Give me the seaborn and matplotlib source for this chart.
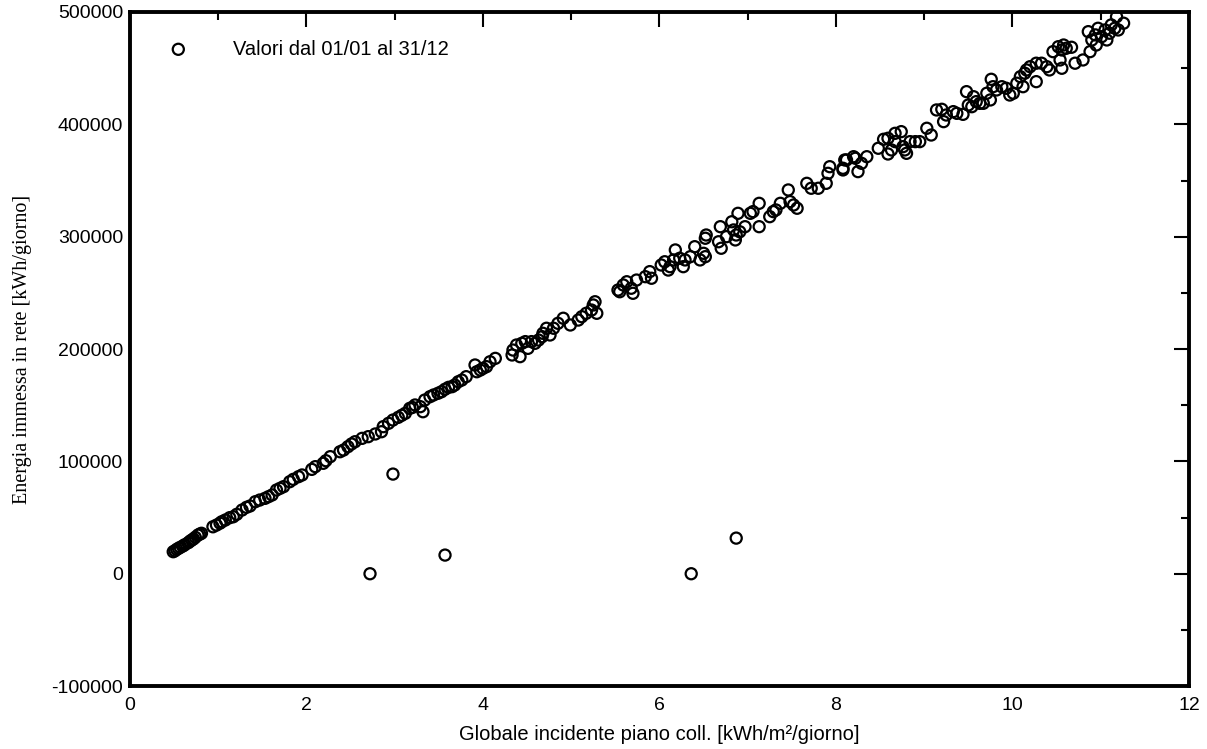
import matplotlib
matplotlib.use('Agg')
import matplotlib.pyplot as plt
import seaborn as sns
import pandas as pd
from matplotlib.ticker import MultipleLocator

sns.set_style('white')
plt.rcParams['font.family'] = ['Liberation Sans', 'DejaVu Sans']
plt.rcParams['axes.unicode_minus'] = False
plt.rcParams['text.color'] = 'black'
plt.rcParams['axes.labelcolor'] = 'black'

# daily irradiance on collector plane [kWh/m2/day] and energy to grid [kWh/day]
irr_low = [0.49, 0.51, 0.53, 0.55, 0.57, 0.60, 0.62, 0.66, 0.68, 0.70, 0.72, 0.74, 0.77, 0.79, 0.81,
           0.94, 0.98, 1.02, 1.04, 1.08, 1.13, 1.17, 1.21, 1.27, 1.32, 1.36, 1.42, 1.47,
           1.53, 1.57, 1.61, 1.66, 1.70, 1.74, 1.81, 1.85, 1.91, 1.95, 2.06, 2.10, 2.19,
           2.22, 2.27, 2.38, 2.42, 2.47, 2.51, 2.55, 2.63, 2.70, 2.78, 2.85]
ene_low = [19600, 20500, 21700, 22600, 23500, 24700, 25800, 27600, 28900, 30000, 31000, 32400, 34400, 35200, 36000,
           41800, 43300, 45000, 46300, 47800, 49900, 50700, 52900, 56700, 59100, 60300, 64100, 65600,
           67100, 68600, 70100, 74500, 76000, 77500, 81900, 84000, 86400, 87900, 92900, 95300, 98300,
           100600, 104200, 108600, 110100, 113100, 115500, 117500, 120500, 122000, 124400, 126400]

irr_mid = [2.87, 2.93, 2.98, 3.04, 3.08, 3.12, 3.17, 3.20, 3.23, 3.29, 3.32, 3.34, 3.40, 3.44, 3.49,
           3.53, 3.57, 3.61, 3.65, 3.68, 3.72, 3.76, 3.81, 3.91, 3.93, 3.97, 4.00, 4.04,
           4.08, 4.14, 4.33, 4.34, 4.38, 4.42, 4.44, 4.48, 4.51, 4.55, 4.59, 4.63, 4.67,
           4.68, 4.72, 4.76, 4.80, 4.85, 4.91, 4.99, 5.08, 5.12, 5.17, 5.23, 5.25, 5.27, 5.29]
ene_mid = [130900, 133900, 136800, 139200, 141000, 142800, 147200, 148000, 150200, 148700, 144200, 154600, 157600, 159100, 160600,
           162000, 164200, 165900, 166500, 168000, 170900, 172400, 175400, 185800, 179800, 181300, 182800, 184300,
           188700, 191700, 194700, 199100, 203600, 193200, 205100, 206600, 200600, 206600, 205100, 208000, 211000,
           214000, 218500, 212500, 218500, 222900, 227400, 221400, 225800, 228800, 231800, 234700, 239200, 242100, 231800]

irr_hi = [5.53, 5.55, 5.59, 5.63, 5.68, 5.70, 5.74, 5.84, 5.89, 5.91, 6.02, 6.06, 6.10, 6.12, 6.16,
          6.18, 6.23, 6.27, 6.29, 6.35, 6.40, 6.46, 6.50, 6.52, 6.52, 6.53, 6.67, 6.69, 6.70,
          6.76, 6.82, 6.84, 6.86, 6.87, 6.89, 6.91, 6.97, 7.03, 7.06, 7.13, 7.13, 7.25, 7.29,
          7.32, 7.37, 7.46, 7.48, 7.52, 7.56, 7.67, 7.72, 7.80, 7.89, 7.91, 7.93, 8.08, 8.12]
ene_hi = [252500, 251000, 257000, 259900, 254100, 249600, 261400, 264400, 268900, 263000, 274800, 277700, 270300, 273300, 279300,
          288200, 280800, 273300, 279300, 282200, 291100, 279300, 285200, 282200, 298600, 301500, 295500, 308900, 289700,
          300000, 313300, 306000, 297100, 301500, 320800, 304400, 308900, 320800, 322300, 329700, 308900, 317800, 322300,
          323800, 329700, 341600, 331200, 328200, 325300, 347500, 343100, 343100, 347500, 356400, 362300, 360900, 368300]

irr_top = [8.08, 8.10, 8.20, 8.22, 8.25, 8.29, 8.35, 8.48, 8.54, 8.59, 8.59, 8.63, 8.67, 8.67, 8.74,
           8.76, 8.78, 8.80, 8.84, 8.90, 8.95, 9.03, 9.08, 9.14, 9.20, 9.22, 9.25, 9.33, 9.37,
           9.44, 9.48, 9.50, 9.54, 9.56, 9.59, 9.63, 9.67, 9.71, 9.75, 9.76, 9.78, 9.82, 9.88,
           9.93, 9.97, 10.01, 10.05, 10.09, 10.12, 10.14, 10.16, 10.20, 10.27, 10.27,
           10.33, 10.39, 10.42, 10.46, 10.52, 10.54, 10.56, 10.56, 10.58, 10.61, 10.67, 10.71,
           10.80, 10.88, 10.86, 10.90, 10.94, 10.95, 10.97, 11.01, 11.05, 11.07, 11.10, 11.12,
           11.16, 11.18, 11.20, 11.26]
ene_top = [359400, 368300, 371200, 369800, 357900, 365300, 371200, 378700, 386700, 387600, 373600, 377200, 384600, 392000, 393500,
           380100, 377200, 374200, 384600, 384600, 384600, 396500, 390500, 412800, 413400, 402400, 408300, 411300, 409800,
           408900, 429100, 417200, 415700, 424600, 420200, 418700, 418700, 427700, 421700, 440100, 433500, 430600, 433500,
           432100, 426100, 427700, 436600, 442400, 433500, 445500, 448400, 451300, 438000, 454400,
           454400, 451300, 448400, 464700, 469100, 457300, 466200, 449900, 470600, 467700, 468600, 454400,
           457300, 464700, 482500, 475100, 479600, 470600, 485500, 478000, 484000, 475100, 481100, 488500,
           485500, 495800, 484000, 490000]

irr_out = [2.72, 2.98, 3.57, 6.36, 6.87]
ene_out = [0, 88700, 16600, 0, 31700]

df = pd.DataFrame({
    'irr': irr_low + irr_mid + irr_hi + irr_top + irr_out,
    'ene': ene_low + ene_mid + ene_hi + ene_top + ene_out,
})

fig = plt.figure(figsize=(12.07, 7.49), dpi=100)
ax = fig.add_axes([0.1077, 0.084, 0.8773, 0.9])

sns.scatterplot(data=df, x='irr', y='ene', ax=ax, marker='o', s=64,
                facecolors='none', edgecolor='black', linewidth=1.6,
                label='Valori dal 01/01 al 31/12')

ax.set_xlim(0, 12)
ax.set_ylim(-100000, 500000)
ax.xaxis.set_major_locator(MultipleLocator(2))
ax.xaxis.set_minor_locator(MultipleLocator(1))
ax.yaxis.set_major_locator(MultipleLocator(100000))
ax.yaxis.set_minor_locator(MultipleLocator(50000))
ax.tick_params(which='both', direction='in', top=True, right=True, width=1.5,
               labelsize=14, colors='black')
ax.tick_params(which='major', length=11, pad=5)
ax.tick_params(axis='x', which='major', pad=8)
ax.tick_params(which='minor', length=5.5)
for sp in ax.spines.values():
    sp.set_linewidth(2.8)
    sp.set_color('black')

ax.set_xlabel('Globale incidente piano coll. [kWh/m²/giorno]', fontsize=14.5, labelpad=8)
ax.set_ylabel('Energia immessa in rete [kWh/giorno]', fontsize=14.5,
              family=['Liberation Serif', 'DejaVu Serif'], labelpad=14)

leg = ax.legend(loc='upper left', frameon=False, fontsize=14.5, handletextpad=1.7,
                handlelength=2.0, borderaxespad=0, bbox_to_anchor=(0.019, 0.971),
                labelcolor='black')

fig.savefig('out.png', dpi=100)
